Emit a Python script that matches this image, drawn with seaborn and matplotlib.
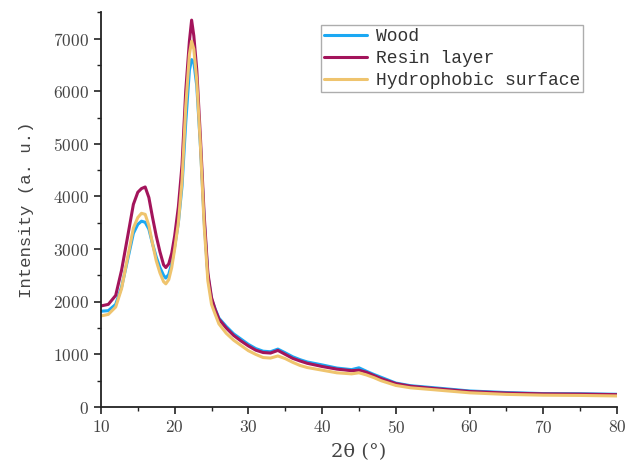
import pandas as pd
import matplotlib
matplotlib.use("Agg")
import matplotlib.pyplot as plt
import seaborn as sns

# 2theta sample positions
two_theta = [10, 11, 12, 12.8, 13.7, 14.4, 15, 15.5, 16, 16.5, 17, 17.5, 18, 18.5, 18.8,
             19.2, 19.6, 20, 20.5, 21, 21.5, 22, 22.3, 22.6, 23, 23.5, 24, 24.5, 25, 25.5,
             26, 27, 28, 29, 30, 31, 32, 33, 34, 35, 36, 37, 38, 40, 42, 44, 45, 46, 47,
             48, 50, 52, 55, 60, 65, 70, 75, 80]

wood = [1820, 1830, 1950, 2280, 2850, 3300, 3470, 3530, 3510, 3380, 3100, 2850, 2650, 2500, 2450,
        2520, 2730, 3050, 3500, 4200, 5400, 6400, 6600, 6550, 6100, 4950, 3550, 2500, 2050, 1860,
        1690, 1530, 1390, 1290, 1190, 1110, 1060, 1050, 1100, 1030, 955, 900, 855, 800, 740, 710, 745, 680, 620,
        565, 455, 405, 368, 305, 275, 255, 252, 242]

resin = [1920, 1950, 2120, 2600, 3300, 3850, 4080, 4150, 4180, 3980, 3600, 3250, 2950, 2700, 2650,
         2720, 2920, 3250, 3800, 4600, 6000, 6950, 7350, 7050, 6400, 5100, 3650, 2550, 2080, 1850,
         1670, 1500, 1360, 1255, 1160, 1080, 1035, 1025, 1075, 1000, 925, 875, 830, 770, 720, 690, 700, 660, 600,
         540, 445, 395, 355, 295, 265, 250, 245, 235]

hydro = [1730, 1760, 1900, 2250, 2900, 3400, 3600, 3680, 3660, 3450, 3100, 2780, 2550, 2380, 2340,
         2420, 2650, 3000, 3500, 4300, 5700, 6700, 6950, 6800, 6200, 4950, 3450, 2400, 1950, 1760,
         1580, 1400, 1270, 1170, 1070, 1000, 940, 930, 970, 920, 850, 790, 750, 700, 650, 630, 650, 610, 560,
         500, 410, 365, 330, 270, 240, 225, 220, 210]

labels = ["Wood", "Resin layer", "Hydrophobic surface"]
colors = ["#1BA8F3", "#A3145B", "#EFC46E"]

rows = []
for name, ys in zip(labels, [wood, resin, hydro]):
    for x, y in zip(two_theta, ys):
        rows.append({"x": x, "y": y, "sample": name})
df = pd.DataFrame(rows)

sns.set_style("ticks")
plt.rcParams['font.family'] = ['cmr10', 'DejaVu Serif']
plt.rcParams['axes.formatter.use_mathtext'] = True

fig = plt.figure(figsize=(6.27, 4.70), dpi=100)
ax = fig.add_axes([0.161, 0.134, 0.823, 0.840])

sns.lineplot(data=df, x="x", y="y", hue="sample", palette=colors, hue_order=labels,
             estimator=None, sort=False, linewidth=2.2, ax=ax)

ax.set_xlim(10, 80)
ax.set_ylim(0, 7500)
ax.set_xticks(range(10, 81, 10))
ax.set_xticks(range(15, 80, 10), minor=True)
ax.set_yticks(range(0, 7001, 1000))
ax.set_yticks(range(500, 7501, 1000), minor=True)
ax.tick_params(which="major", direction="out", length=5, width=1.2, labelsize=12.5, colors="#222222",
               labelcolor="#444444")
ax.tick_params(which="minor", direction="out", length=3, width=1.0, colors="#222222")
for s in ["top", "right"]:
    ax.spines[s].set_visible(False)
for s in ["left", "bottom"]:
    ax.spines[s].set_linewidth(1.3)
    ax.spines[s].set_color("#222222")

ax.set_xlabel("2θ (°)", fontsize=14, family=["DejaVu Serif"], color="#444444", labelpad=5)
ax.set_ylabel("Intensity (a. u.)", fontsize=12.5, family=["Liberation Mono"], color="#444444", labelpad=14)

leg = ax.legend(loc="upper right", bbox_to_anchor=(0.934, 0.967), borderaxespad=0,
                prop={"family": "Liberation Mono", "size": 13}, frameon=True, fancybox=False,
                handlelength=2.4, handletextpad=0.5, labelspacing=0.28, borderpad=0.15)
leg.get_frame().set_edgecolor("#999999")
leg.get_frame().set_linewidth(1.0)
for t in leg.get_texts():
    t.set_color("#333333")

fig.savefig("out.png", dpi=100)
